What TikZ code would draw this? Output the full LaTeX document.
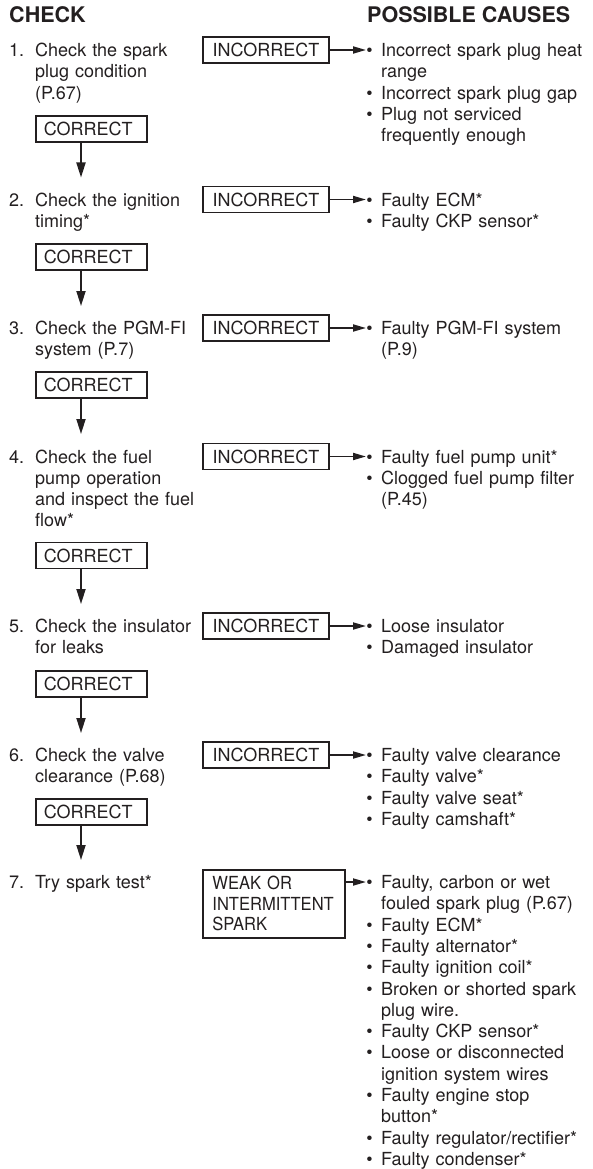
\documentclass[tikz,border=0pt]{standalone}
\usepackage{fontspec}
\setmainfont{TeX Gyre Heros}
\newfontfamily\condfont[FakeStretch=0.92]{TeX Gyre Heros}
\usetikzlibrary{arrows.meta}
\definecolor{ink}{RGB}{35,31,32}
\newcommand{\cbul}{\leavevmode\llap{\textbullet\hspace{8.5pt}}}
\begin{document}
\begin{tikzpicture}[x=1pt,y=-1pt,
  txt/.style={inner sep=0pt, anchor=base west, text=ink, font=\fontsize{18}{21.3}\selectfont},
  itemtxt/.style={txt, text width=175pt, align=left},
  causetxt/.style={txt, text width=215pt, align=left},
  headtxt/.style={inner sep=0pt, anchor=base west, text=ink, font=\fontsize{21.5}{24}\selectfont\bfseries},
  incbox/.style={draw=ink, line width=1.8pt, text=ink, minimum width=126pt, minimum height=26pt, inner sep=0pt, font=\fontsize{18}{21.3}\selectfont},
  corbox/.style={draw=ink, line width=1.8pt, text=ink, text width=95pt, align=left, inner xsep=8pt, inner ysep=0pt, minimum height=26pt, anchor=west, font=\fontsize{18}{21.3}\selectfont},
  weakbox/.style={draw=ink, line width=1.8pt, text=ink, text width=123pt, align=left, inner xsep=9.5pt, inner ysep=6.5pt, anchor=north west, font=\condfont\fontsize{18}{20.5}\selectfont},
  harrow/.style={draw=ink, line width=1.8pt, -{Triangle[length=13pt,width=7pt]}},
  varrow/.style={draw=ink, line width=1.8pt, -{Triangle[length=15pt,width=9pt]}}
]
\useasboundingbox (0,0) rectangle (592,1169);
\fill[white] (0,0) rectangle (592,1169);

% headers
\node[headtxt] (hcheck) at (9,23) {CHECK};
\node[headtxt] (hcause) at (367,23) {POSSIBLE CAUSES};

% item 1
\node[txt] (n1) at (9,56.5) {1.};
\node[itemtxt] (t1) at (35,56.5) {Check the spark\\plug condition\\(P.67)};
\node[incbox] (i1) at (266,50) {INCORRECT};
\node[causetxt] (c1) at (381,56.5) {\cbul Incorrect spark plug heat\\range\\\cbul Incorrect spark plug gap\\\cbul Plug not serviced\\frequently enough};
\coordinate (b1) at (366,50);
\draw[harrow] (i1.east) -- (b1);
\node[corbox] (k1) at (35,129) {CORRECT};
\coordinate (a1) at (81,177.5);
\draw[varrow] (k1.south -| a1) -- (a1);

% item 2
\node[txt] (n2) at (9,206) {2.};
\node[itemtxt] (t2) at (35,206) {Check the ignition\\timing*};
\node[incbox] (i2) at (266,199.5) {INCORRECT};
\node[causetxt] (c2) at (381,206) {\cbul Faulty ECM*\\\cbul Faulty CKP sensor*};
\coordinate (b2) at (366,199.5);
\draw[harrow] (i2.east) -- (b2);
\node[corbox] (k2) at (35,257) {CORRECT};
\coordinate (a2) at (81,306);
\draw[varrow] (k2.south -| a2) -- (a2);

% item 3
\node[txt] (n3) at (9,334.5) {3.};
\node[itemtxt] (t3) at (35,334.5) {Check the PGM-FI\\system (P.7)};
\node[incbox] (i3) at (266,328) {INCORRECT};
\node[causetxt] (c3) at (381,334.5) {\cbul Faulty PGM-FI system\\(P.9)};
\coordinate (b3) at (366,328);
\draw[harrow] (i3.east) -- (b3);
\node[corbox] (k3) at (35,385) {CORRECT};
\coordinate (a3) at (81,434);
\draw[varrow] (k3.south -| a3) -- (a3);

% item 4
\node[txt] (n4) at (9,463) {4.};
\node[itemtxt] (t4) at (35,463) {Check the fuel\\pump operation\\and inspect the fuel\\flow*};
\node[incbox] (i4) at (266,456.5) {INCORRECT};
\node[causetxt] (c4) at (381,463) {\cbul Faulty fuel pump unit*\\\cbul Clogged fuel pump filter\\(P.45)};
\coordinate (b4) at (366,456.5);
\draw[harrow] (i4.east) -- (b4);
\node[corbox] (k4) at (35,555.5) {CORRECT};
\coordinate (a4) at (81,604);
\draw[varrow] (k4.south -| a4) -- (a4);

% item 5
\node[txt] (n5) at (9,632.5) {5.};
\node[itemtxt] (t5) at (35,632.5) {Check the insulator\\for leaks};
\node[incbox] (i5) at (266,626) {INCORRECT};
\node[causetxt] (c5) at (381,632.5) {\cbul Loose insulator\\\cbul Damaged insulator};
\coordinate (b5) at (366,626);
\draw[harrow] (i5.east) -- (b5);
\node[corbox] (k5) at (35,684) {CORRECT};
\coordinate (a5) at (81,733);
\draw[varrow] (k5.south -| a5) -- (a5);

% item 6
\node[txt] (n6) at (9,761.5) {6.};
\node[itemtxt] (t6) at (35,761.5) {Check the valve\\clearance (P.68)};
\node[incbox] (i6) at (266,755) {INCORRECT};
\node[causetxt] (c6) at (381,761.5) {\cbul Faulty valve clearance\\\cbul Faulty valve*\\\cbul Faulty valve seat*\\\cbul Faulty camshaft*};
\coordinate (b6) at (366,755);
\draw[harrow] (i6.east) -- (b6);
\node[corbox] (k6) at (35,812) {CORRECT};
\coordinate (a6) at (81,860);
\draw[varrow] (k6.south -| a6) -- (a6);

% item 7
\node[txt] (n7) at (9,888.5) {7.};
\node[itemtxt] (t7) at (35,888.5) {Try spark test*};
\node[weakbox] (w7) at (202,869) {WEAK OR\\INTERMITTENT\\SPARK};
\node[causetxt] (c7) at (381,888.5) {\cbul Faulty, carbon or wet\\fouled spark plug (P.67)\\\cbul Faulty ECM*\\\cbul Faulty alternator*\\\cbul Faulty ignition coil*\\\cbul Broken or shorted spark\\plug wire.\\\cbul Faulty CKP sensor*\\\cbul Loose or disconnected\\ignition system wires\\\cbul Faulty engine stop\\button*\\\cbul Faulty regulator/rectifier*\\\cbul Faulty condenser*};
\coordinate (b7) at (366,882);
\draw[harrow] (w7.east |- b7) -- (b7);
\end{tikzpicture}
\end{document}
